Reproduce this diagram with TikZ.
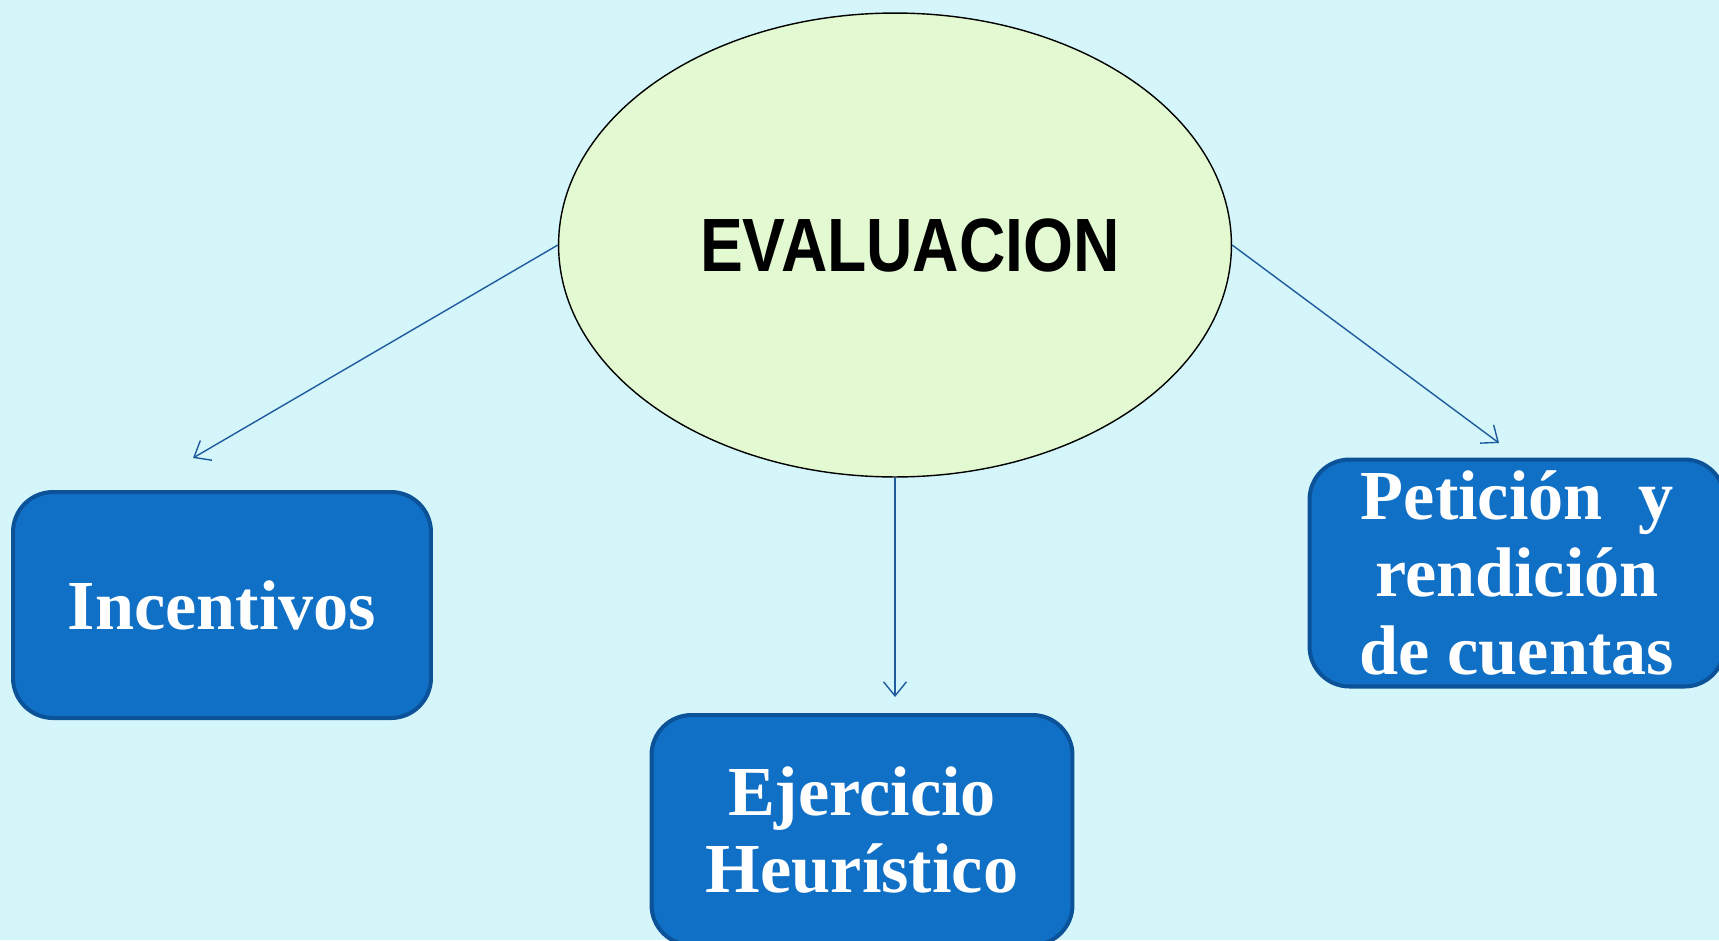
\documentclass[tikz,border=0pt]{standalone}
\usepackage{fontspec}
\setmainfont{Liberation Serif}
\setsansfont{Liberation Sans}
\usetikzlibrary{arrows.meta,shapes.geometric,positioning}
\definecolor{bgcyan}{RGB}{212,246,250}
\definecolor{ovalfill}{RGB}{227,249,210}
\definecolor{boxfill}{RGB}{16,112,198}
\definecolor{boxline}{RGB}{11,82,153}
\definecolor{arrowline}{RGB}{31,92,158}
\tikzset{
	concept map/.style={
		x=0.02cm, y=-0.02cm,
		ar/.style={draw=arrowline, line width=0.8pt,
			-{Straight Barb[length=8pt,width=13pt]}}
		},
	topic/.style={ellipse, draw=black, line width=0.8pt, fill=ovalfill,
		minimum width=13.46cm, minimum height=9.28cm, inner sep=0pt,
		font=\sffamily\bfseries\fontsize{43}{50}\selectfont},
	item/.style={draw=boxline, line width=2.3pt, fill=boxfill,
		rounded corners=0.8cm, text=white, align=center, inner sep=0pt,
		minimum width=8.36cm,
		font=\bfseries\fontsize{40}{44}\selectfont}
}

\begin{document}
\begin{tikzpicture}[concept map]
      \path[use as bounding box, fill=bgcyan] (0,0) rectangle (1719,940);
      \node[topic] (eval) at (895,245) {\hspace*{0.6cm}\scalebox{0.85}[1]{EVALUACION}};
      \node[item, minimum height=4.52cm] (inc) at (222,605) {Incentivos};
      \node[item, minimum width=8.42cm, minimum height=4.6cm] (ejer) at (862,830) {Ejercicio\\Heurístico};
      \node[item, minimum width=8.3cm, minimum height=4.54cm] (pet) at (1517,573) {Petición\ \ y\\rendición\\de cuentas};
      \coordinate (incTip) at (193,458);
      \coordinate (ejerTip) at (895,697);
      \coordinate (petTip) at (1499,443);
      \draw[ar] (eval.west) -- (incTip);
      \draw[ar] (eval.south) -- (ejerTip);
      \draw[ar] (eval.east) -- (petTip);
   \end{tikzpicture}
\end{document}
